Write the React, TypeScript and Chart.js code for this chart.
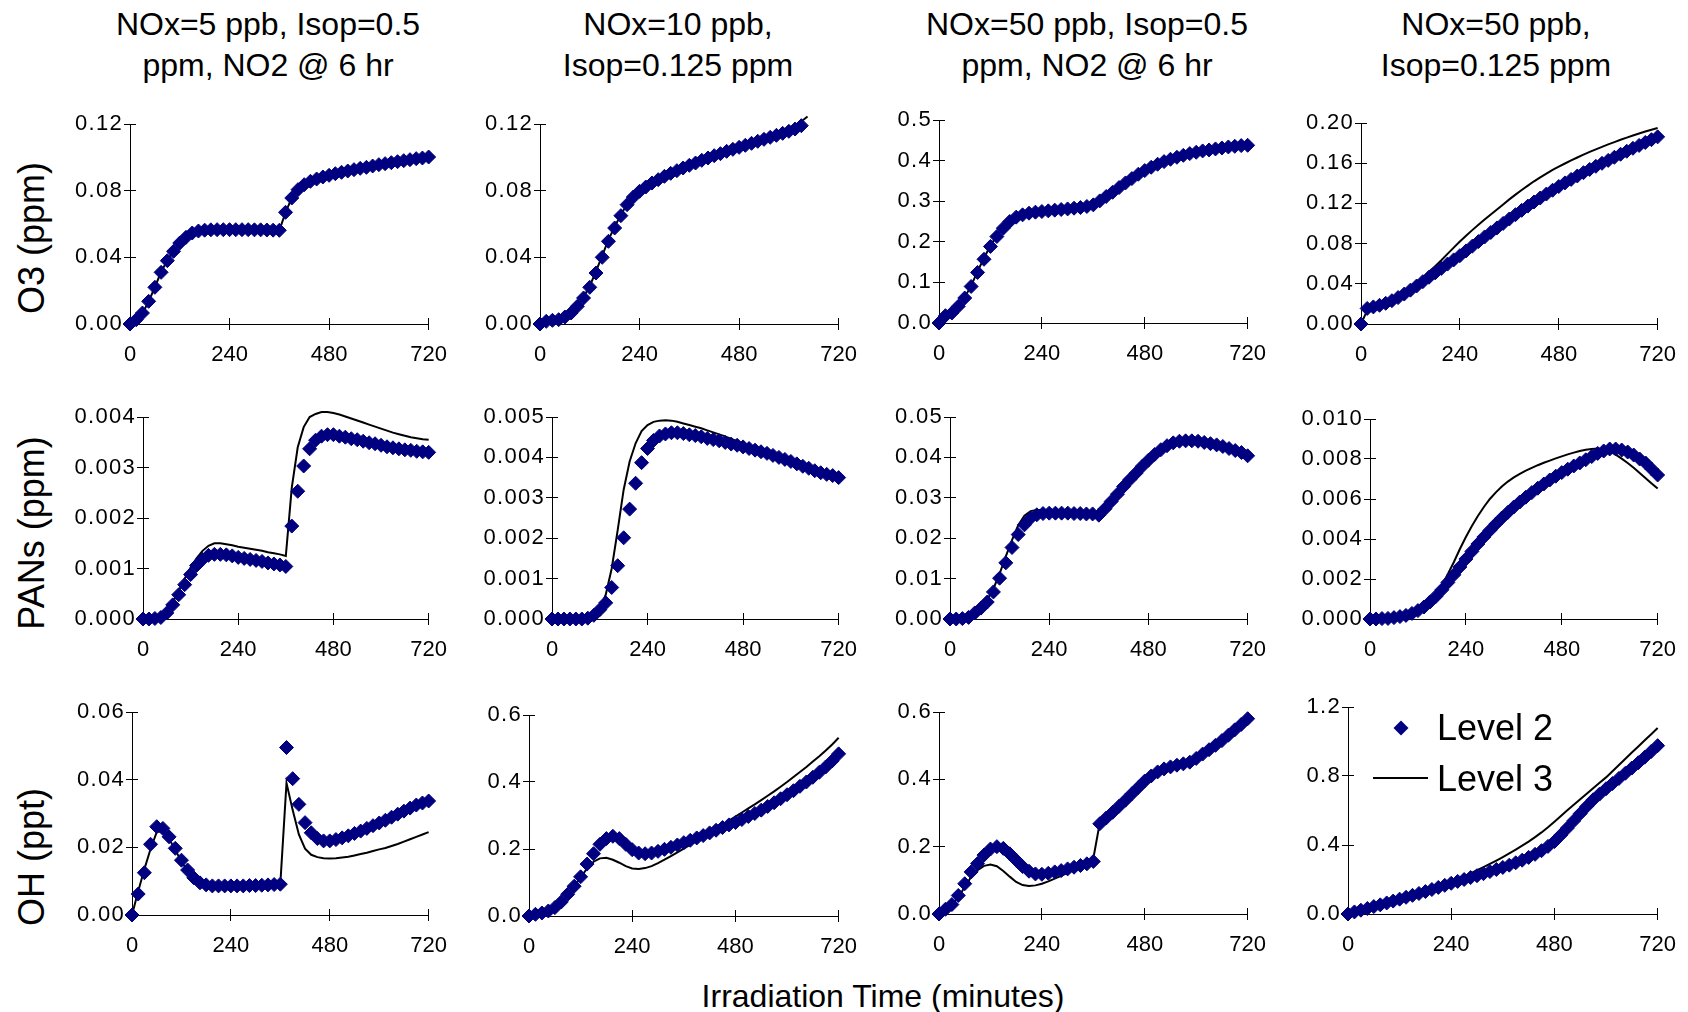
import React, { useEffect, useRef } from "react";
import { Chart, registerables } from "chart.js";

Chart.register(...registerables);

// ---------- data ----------
const T = [0, 15, 30, 45, 60, 75, 90, 105, 120, 135, 150, 165, 180, 195, 210, 225, 240, 255, 270, 285, 300, 315, 330, 345, 360, 375, 390, 405, 420, 435, 450, 465, 480, 495, 510, 525, 540, 555, 570, 585, 600, 615, 630, 645, 660, 675, 690, 705, 720];
const X_TICKS = [0, 240, 480, 720];

const COL_TITLES = [
  ["NOx=5 ppb, Isop=0.5", "ppm, NO2 @ 6 hr"],
  ["NOx=10 ppb,", "Isop=0.125 ppm"],
  ["NOx=50 ppb, Isop=0.5", "ppm, NO2 @ 6 hr"],
  ["NOx=50 ppb,", "Isop=0.125 ppm"],
];
const ROW_TITLES = ["O3 (ppm)", "PANs (ppm)", "OH (ppt)"];
const X_TITLE = "Irradiation Time (minutes)";
const SERIES = ["Level 2", "Level 3"];

// O3
const O3_A_L2 = [0, 0.0026, 0.0066, 0.0136, 0.022, 0.031, 0.038, 0.0436, 0.0486, 0.052, 0.0546, 0.0558, 0.0563, 0.0565, 0.0566, 0.0566, 0.0566, 0.0566, 0.0566, 0.0566, 0.0565, 0.0565, 0.0564, 0.0563, 0.0562, 0.067, 0.0756, 0.0806, 0.0836, 0.0856, 0.087, 0.0882, 0.0892, 0.0902, 0.091, 0.0918, 0.0926, 0.0934, 0.094, 0.0948, 0.0956, 0.0962, 0.0968, 0.0974, 0.098, 0.0986, 0.0992, 0.0996, 0.1002];
const O3_A_L3 = [0, 0.0024, 0.0064, 0.0134, 0.0222, 0.0312, 0.0382, 0.0438, 0.0487, 0.0521, 0.0546, 0.0558, 0.0563, 0.0565, 0.0566, 0.0566, 0.0566, 0.0566, 0.0566, 0.0566, 0.0565, 0.0565, 0.0564, 0.0563, 0.0562, 0.0668, 0.0758, 0.0808, 0.0838, 0.0857, 0.0871, 0.0883, 0.0893, 0.0902, 0.091, 0.0918, 0.0926, 0.0934, 0.094, 0.0948, 0.0956, 0.0962, 0.0968, 0.0974, 0.098, 0.0986, 0.0992, 0.0996, 0.1002];
const O3_B_L2 = [0, 0.0016, 0.0022, 0.0026, 0.0042, 0.0066, 0.0106, 0.0156, 0.022, 0.0306, 0.04, 0.0496, 0.0576, 0.065, 0.0716, 0.0762, 0.0796, 0.0822, 0.0846, 0.0866, 0.0886, 0.0904, 0.092, 0.0936, 0.0952, 0.0966, 0.0982, 0.0996, 0.101, 0.1022, 0.1036, 0.1048, 0.106, 0.1072, 0.1084, 0.1096, 0.1108, 0.112, 0.1132, 0.1144, 0.1156, 0.117, 0.119, null, null, null, null, null, null];
const O3_B_L3 = [0, 0.0014, 0.002, 0.0026, 0.0042, 0.0068, 0.011, 0.0162, 0.0228, 0.0316, 0.041, 0.0505, 0.0584, 0.0656, 0.072, 0.0765, 0.0799, 0.0825, 0.0849, 0.0869, 0.0889, 0.0907, 0.0923, 0.0939, 0.0955, 0.0969, 0.0985, 0.0999, 0.1013, 0.1026, 0.104, 0.1052, 0.1064, 0.1077, 0.109, 0.1103, 0.1116, 0.1129, 0.1143, 0.1158, 0.1174, 0.1192, 0.1215, 0.1245, null, null, null, null, null];
const O3_C_L2 = [0, 0.018, 0.0246, 0.041, 0.0615, 0.09, 0.1246, 0.157, 0.1885, 0.213, 0.2336, 0.25, 0.2607, 0.2664, 0.2705, 0.273, 0.2746, 0.2762, 0.278, 0.2795, 0.281, 0.2828, 0.2844, 0.287, 0.291, 0.3008, 0.3115, 0.322, 0.3336, 0.345, 0.3557, 0.3664, 0.3754, 0.3836, 0.391, 0.3975, 0.4033, 0.4082, 0.413, 0.4172, 0.4205, 0.4238, 0.4262, 0.4287, 0.4311, 0.4336, 0.4352, 0.4369, 0.4377];
const O3_C_L3 = [0, 0.016, 0.026, 0.042, 0.063, 0.092, 0.127, 0.16, 0.191, 0.215, 0.235, 0.251, 0.261, 0.2665, 0.2705, 0.273, 0.2746, 0.2762, 0.278, 0.2795, 0.281, 0.2828, 0.2844, 0.287, 0.291, 0.3008, 0.3115, 0.322, 0.3336, 0.345, 0.3557, 0.3664, 0.3754, 0.3836, 0.391, 0.3975, 0.4033, 0.4082, 0.413, 0.4172, 0.4205, 0.4238, 0.4262, 0.4287, 0.4311, 0.4336, 0.4352, 0.4369, 0.4377];
const O3_D_L2 = [0, 0.0155, 0.017, 0.0186, 0.0206, 0.0232, 0.0263, 0.0298, 0.0337, 0.0378, 0.0421, 0.0465, 0.0509, 0.0553, 0.0596, 0.0638, 0.068, 0.0727, 0.0774, 0.082, 0.0866, 0.0911, 0.0956, 0.1001, 0.1045, 0.1088, 0.1131, 0.1173, 0.1214, 0.1254, 0.1293, 0.1331, 0.1368, 0.1404, 0.1439, 0.1473, 0.1506, 0.1538, 0.1569, 0.1599, 0.1628, 0.1659, 0.1689, 0.1719, 0.1748, 0.1777, 0.1806, 0.1834, 0.1862];
const O3_D_L3 = [0, 0.0135, 0.016, 0.0183, 0.0208, 0.0237, 0.027, 0.0308, 0.035, 0.0397, 0.0448, 0.052, 0.0575, 0.0635, 0.0698, 0.076, 0.082, 0.0878, 0.0934, 0.0988, 0.104, 0.109, 0.114, 0.119, 0.124, 0.1287, 0.1333, 0.1377, 0.142, 0.1459, 0.1497, 0.1534, 0.1565, 0.1597, 0.1628, 0.1657, 0.1685, 0.1712, 0.1738, 0.1763, 0.1787, 0.181, 0.1833, 0.1855, 0.1876, 0.1896, 0.1915, 0.1933, 0.195];

// PANs
const PAN_A_L2 = [0, 0, 0.00001, 0.00003, 0.00012, 0.00028, 0.00048, 0.00068, 0.00088, 0.00106, 0.00118, 0.00126, 0.00128, 0.00128, 0.00127, 0.00125, 0.00122, 0.0012, 0.00118, 0.00116, 0.00114, 0.00111, 0.00109, 0.00107, 0.00104, 0.00184, 0.00253, 0.00303, 0.00337, 0.00354, 0.00362, 0.00365, 0.00365, 0.00362, 0.0036, 0.00357, 0.00355, 0.00352, 0.00349, 0.00347, 0.00344, 0.00341, 0.00339, 0.00337, 0.00335, 0.00334, 0.00332, 0.00331, 0.0033];
const PAN_A_L3 = [0, 0, 0, 0.00003, 0.00014, 0.00032, 0.00056, 0.0008, 0.00102, 0.0012, 0.00135, 0.00145, 0.0015, 0.0015, 0.00148, 0.00146, 0.00143, 0.00141, 0.00139, 0.00137, 0.00135, 0.00132, 0.0013, 0.00128, 0.00125, 0.0026, 0.0034, 0.0038, 0.004, 0.00406, 0.0041, 0.0041, 0.00408, 0.00405, 0.00401, 0.00397, 0.00393, 0.00389, 0.00385, 0.00381, 0.00377, 0.00373, 0.00369, 0.00366, 0.00363, 0.0036, 0.00358, 0.00356, 0.00355];
const PAN_B_L2 = [0, 0, 0, 0, 0, 0, 0.00002, 0.00009, 0.00023, 0.0004, 0.00078, 0.00132, 0.00201, 0.00272, 0.00336, 0.00387, 0.00422, 0.00442, 0.00453, 0.00458, 0.00461, 0.00461, 0.00459, 0.00456, 0.00454, 0.00451, 0.00447, 0.00444, 0.00441, 0.00437, 0.00433, 0.0043, 0.00426, 0.00422, 0.00418, 0.00414, 0.0041, 0.00405, 0.004, 0.00395, 0.0039, 0.00384, 0.00378, 0.00373, 0.00367, 0.00362, 0.00358, 0.00355, 0.0035];
const PAN_B_L3 = [0, 0, 0, 0, 0, 0, 0, 0.00002, 0.00025, 0.0006, 0.00125, 0.0022, 0.0032, 0.0039, 0.00435, 0.00465, 0.0048, 0.00488, 0.00491, 0.00492, 0.00491, 0.00488, 0.00484, 0.0048, 0.00476, 0.00472, 0.00467, 0.00462, 0.00457, 0.00452, 0.00446, 0.0044, 0.00433, 0.00427, 0.00421, 0.00415, 0.00409, 0.00404, 0.00399, 0.00394, 0.00389, 0.00384, 0.00378, 0.00373, 0.00367, 0.00361, 0.00356, 0.00352, 0.00348];
const PAN_C_L2 = [0, 0, 0.0001, 0.0004, 0.0015, 0.0027, 0.0042, 0.0067, 0.0101, 0.0139, 0.0177, 0.0209, 0.0233, 0.025, 0.0258, 0.0261, 0.0262, 0.0262, 0.0262, 0.0262, 0.0261, 0.0261, 0.026, 0.026, 0.0257, 0.0273, 0.0291, 0.0309, 0.0328, 0.0345, 0.0361, 0.0378, 0.0393, 0.0407, 0.0419, 0.0429, 0.0436, 0.044, 0.0441, 0.0441, 0.044, 0.0437, 0.0434, 0.0431, 0.0427, 0.0422, 0.0417, 0.0412, 0.0404];
const PAN_C_L3 = [0, 0, 0.0001, 0.0005, 0.0016, 0.003, 0.0048, 0.0075, 0.0112, 0.0155, 0.0195, 0.0232, 0.0256, 0.0267, 0.027, 0.027, 0.0269, 0.0268, 0.0267, 0.0266, 0.0265, 0.0264, 0.0263, 0.0262, 0.026, 0.0274, 0.0292, 0.031, 0.0329, 0.0346, 0.0362, 0.0379, 0.0394, 0.0408, 0.042, 0.043, 0.0437, 0.0441, 0.0442, 0.0442, 0.0441, 0.0438, 0.0435, 0.0432, 0.0428, 0.0423, 0.0418, 0.0412, 0.0405];
const PAN_D_L2 = [0, 0, 0.00002, 0.00003, 0.00007, 0.00012, 0.00018, 0.00028, 0.00042, 0.0006, 0.00085, 0.00113, 0.00146, 0.00183, 0.00221, 0.0026, 0.003, 0.00338, 0.00375, 0.0041, 0.00443, 0.00475, 0.00505, 0.00533, 0.0056, 0.00585, 0.00609, 0.00632, 0.00654, 0.00675, 0.00695, 0.00714, 0.00732, 0.00749, 0.00765, 0.0078, 0.00796, 0.00812, 0.00828, 0.0084, 0.0085, 0.0085, 0.00845, 0.00835, 0.0082, 0.008, 0.0078, 0.0075, 0.0072];
const PAN_D_L3 = [0, 0, 0.00002, 0.00003, 0.00007, 0.00012, 0.00018, 0.00028, 0.00042, 0.0006, 0.00088, 0.00125, 0.0017, 0.00225, 0.00285, 0.0035, 0.0041, 0.00465, 0.00515, 0.0056, 0.006, 0.00633, 0.00662, 0.00687, 0.00708, 0.00726, 0.00742, 0.00756, 0.00769, 0.00781, 0.00792, 0.00803, 0.00813, 0.00823, 0.00832, 0.0084, 0.00846, 0.0085, 0.00852, 0.00848, 0.00838, 0.00822, 0.00802, 0.0078, 0.00756, 0.0073, 0.00704, 0.00678, 0.00652];

// OH
const OH_A_L2 = [0, 0.0062, 0.0125, 0.0209, 0.0261, 0.0256, 0.0231, 0.0197, 0.0162, 0.0133, 0.011, 0.0095, 0.0089, 0.0086, 0.0086, 0.0086, 0.0086, 0.0086, 0.0086, 0.0087, 0.0087, 0.0088, 0.0089, 0.009, 0.0091, 0.0495, 0.0403, 0.0327, 0.0273, 0.0243, 0.0226, 0.0219, 0.0219, 0.0223, 0.0228, 0.0234, 0.0241, 0.0248, 0.0256, 0.0264, 0.0272, 0.028, 0.0289, 0.0298, 0.0307, 0.0316, 0.0325, 0.0331, 0.0337];
const OH_A_L3 = [0, 0.007, 0.0135, 0.0195, 0.0245, 0.0248, 0.0225, 0.0192, 0.0158, 0.013, 0.0108, 0.0094, 0.0088, 0.0086, 0.0086, 0.0086, 0.0086, 0.0086, 0.0086, 0.0087, 0.0087, 0.0088, 0.0089, 0.009, 0.0092, 0.039, 0.031, 0.0238, 0.0196, 0.0178, 0.0171, 0.0168, 0.0167, 0.0168, 0.017, 0.0172, 0.0176, 0.018, 0.0184, 0.0189, 0.0194, 0.0198, 0.0204, 0.021, 0.0217, 0.0224, 0.0231, 0.0238, 0.0245];
const OH_B_L2 = [0, 0.005, 0.009, 0.015, 0.025, 0.042, 0.065, 0.089, 0.117, 0.155, 0.186, 0.214, 0.231, 0.238, 0.231, 0.214, 0.198, 0.188, 0.186, 0.188, 0.193, 0.199, 0.205, 0.212, 0.219, 0.226, 0.233, 0.24, 0.248, 0.256, 0.264, 0.272, 0.279, 0.288, 0.297, 0.306, 0.316, 0.327, 0.338, 0.35, 0.362, 0.374, 0.387, 0.4, 0.414, 0.429, 0.445, 0.463, 0.484];
const OH_B_L3 = [0, 0.004, 0.008, 0.014, 0.024, 0.04, 0.062, 0.088, 0.115, 0.142, 0.162, 0.172, 0.174, 0.168, 0.159, 0.149, 0.142, 0.14, 0.143, 0.149, 0.158, 0.168, 0.179, 0.19, 0.201, 0.213, 0.225, 0.237, 0.249, 0.261, 0.273, 0.285, 0.297, 0.309, 0.321, 0.333, 0.346, 0.359, 0.372, 0.386, 0.4, 0.415, 0.43, 0.445, 0.461, 0.477, 0.494, 0.512, 0.532];
const OH_C_L2 = [0, 0.014, 0.028, 0.055, 0.09, 0.125, 0.15, 0.175, 0.193, 0.2, 0.195, 0.179, 0.16, 0.141, 0.127, 0.119, 0.118, 0.121, 0.125, 0.129, 0.134, 0.139, 0.144, 0.149, 0.156, 0.268, 0.285, 0.302, 0.32, 0.338, 0.357, 0.376, 0.395, 0.41, 0.422, 0.431, 0.437, 0.442, 0.446, 0.451, 0.462, 0.475, 0.488, 0.501, 0.515, 0.531, 0.547, 0.563, 0.58];
const OH_C_L3 = [0, 0.014, 0.028, 0.05, 0.08, 0.11, 0.13, 0.143, 0.147, 0.142, 0.128, 0.111, 0.095, 0.086, 0.083, 0.085, 0.09, 0.097, 0.105, 0.113, 0.122, 0.131, 0.14, 0.15, 0.165, 0.27, 0.285, 0.302, 0.32, 0.338, 0.357, 0.376, 0.395, 0.41, 0.422, 0.431, 0.437, 0.442, 0.446, 0.451, 0.462, 0.475, 0.488, 0.501, 0.515, 0.531, 0.547, 0.563, 0.58];
const OH_D_L2 = [0, 0.012, 0.022, 0.032, 0.043, 0.053, 0.064, 0.075, 0.086, 0.097, 0.108, 0.119, 0.13, 0.142, 0.154, 0.166, 0.178, 0.189, 0.2, 0.211, 0.222, 0.234, 0.246, 0.258, 0.27, 0.283, 0.297, 0.312, 0.328, 0.346, 0.367, 0.392, 0.42, 0.458, 0.498, 0.54, 0.582, 0.623, 0.662, 0.695, 0.726, 0.756, 0.786, 0.816, 0.846, 0.877, 0.909, 0.942, 0.976];
const OH_D_L3 = [0, 0.012, 0.022, 0.032, 0.043, 0.053, 0.064, 0.075, 0.086, 0.097, 0.108, 0.12, 0.132, 0.145, 0.158, 0.171, 0.188, 0.203, 0.219, 0.236, 0.254, 0.272, 0.291, 0.31, 0.33, 0.351, 0.373, 0.396, 0.42, 0.446, 0.473, 0.503, 0.535, 0.568, 0.601, 0.633, 0.665, 0.697, 0.729, 0.761, 0.792, 0.828, 0.864, 0.9, 0.936, 0.971, 1.007, 1.042, 1.078];

// y tick labels
const Y_O3_AB = [0, 0.04, 0.08, 0.12];
const Y_O3_C = [0, 0.1, 0.2, 0.3, 0.4, 0.5];
const Y_O3_D = [0, 0.04, 0.08, 0.12, 0.16, 0.2];
const Y_PAN_A = [0, 0.001, 0.002, 0.003, 0.004];
const Y_PAN_B = [0, 0.001, 0.002, 0.003, 0.004, 0.005];
const Y_PAN_C = [0, 0.01, 0.02, 0.03, 0.04, 0.05];
const Y_PAN_D = [0, 0.002, 0.004, 0.006, 0.008, 0.01];
const Y_OH_A = [0, 0.02, 0.04, 0.06];
const Y_OH_BC = [0, 0.2, 0.4, 0.6];
const Y_OH_D = [0, 0.4, 0.8, 1.2];

type PanelDef = { l2: (number | null)[]; l3: (number | null)[]; yTicks: number[]; dec: number; legend?: boolean };

const PANELS: PanelDef[] = [
  { l2: O3_A_L2, l3: O3_A_L3, yTicks: Y_O3_AB, dec: 2 },
  { l2: O3_B_L2, l3: O3_B_L3, yTicks: Y_O3_AB, dec: 2 },
  { l2: O3_C_L2, l3: O3_C_L3, yTicks: Y_O3_C, dec: 1 },
  { l2: O3_D_L2, l3: O3_D_L3, yTicks: Y_O3_D, dec: 2 },
  { l2: PAN_A_L2, l3: PAN_A_L3, yTicks: Y_PAN_A, dec: 3 },
  { l2: PAN_B_L2, l3: PAN_B_L3, yTicks: Y_PAN_B, dec: 3 },
  { l2: PAN_C_L2, l3: PAN_C_L3, yTicks: Y_PAN_C, dec: 2 },
  { l2: PAN_D_L2, l3: PAN_D_L3, yTicks: Y_PAN_D, dec: 3 },
  { l2: OH_A_L2, l3: OH_A_L3, yTicks: Y_OH_A, dec: 2 },
  { l2: OH_B_L2, l3: OH_B_L3, yTicks: Y_OH_BC, dec: 1 },
  { l2: OH_C_L2, l3: OH_C_L3, yTicks: Y_OH_BC, dec: 1 },
  { l2: OH_D_L2, l3: OH_D_L3, yTicks: Y_OH_D, dec: 1, legend: true },
];

// ---------- layout (page pixels) ----------
const COL_LEFT = [40, 450, 862, 1272];
const PLOT_BOXES = [
  { l: 130, r: 439, t: 124, b: 324 },
  { l: 540, r: 849, t: 124, b: 324 },
  { l: 939, r: 1258, t: 120, b: 323 },
  { l: 1361, r: 1668, t: 123, b: 324 },
  { l: 143, r: 439, t: 417, b: 619 },
  { l: 552, r: 849, t: 417, b: 619 },
  { l: 950, r: 1258, t: 417, b: 619 },
  { l: 1370, r: 1668, t: 419, b: 619 },
  { l: 132, r: 439, t: 712, b: 915 },
  { l: 529, r: 849, t: 715, b: 916 },
  { l: 939, r: 1258, t: 712, b: 914 },
  { l: 1348, r: 1668, t: 707, b: 914 },
];
const PAD_TOP = 20;
const PAD_RIGHT = 20;
const X_AXIS_H = 45;
const TICK_FONT_SIZE = 22;
const Y_LABEL_SPACING = "1.3px";
const COL_TITLE_X = [268, 678, 1087, 1496];
const COL_TITLE_Y = [24, 65];
const ROW_TITLE_X = 32;
const ROW_TITLE_Y = [238, 533, 857];
const X_TITLE_POS = { x: 883, y: 996 };
const LEGEND_POS = { diamondX: 1401, diamondY: 728, lineX1: 1373, lineX2: 1428, lineY: 778, textX: 1437, base1: 740, base2: 791 };

const FONT = "'Liberation Sans', Arial, Helvetica, sans-serif";
const NAVY = "#000080";

const crossTicks = {
  id: "crossTicks",
  beforeDatasetsDraw(chart: any) {
    const { ctx, chartArea: a, scales } = chart;
    const x = scales.x;
    const y = scales.y;
    const al = (p: number) => Math.round(p - 0.5) + 0.5;
    ctx.save();
    ctx.strokeStyle = "#000";
    ctx.lineWidth = 1;
    ctx.beginPath();
    x.ticks.forEach((t: any) => {
      const px = al(x.getPixelForValue(t.value));
      ctx.moveTo(px, a.bottom);
      ctx.lineTo(px, a.bottom - 6);
    });
    y.ticks.forEach((t: any) => {
      const py = al(y.getPixelForValue(t.value));
      ctx.moveTo(a.left, py);
      ctx.lineTo(a.left + 6, py);
    });
    ctx.stroke();
    ctx.restore();
  },
};

// y-axis labels (drawn after the datasets, ticks.z = 1) get a little extra letter spacing
const ySpacing = {
  id: "ySpacing",
  afterDatasetsDraw(chart: any) {
    (chart.ctx as any).letterSpacing = Y_LABEL_SPACING;
  },
  afterDraw(chart: any) {
    (chart.ctx as any).letterSpacing = "0px";
  },
};

function makeLegendPlugin(offX: number, offY: number) {
  return {
    id: "inlineLegend",
    afterDatasetsDraw(chart: any) {
      const ctx = chart.ctx;
      const [d2, d3] = chart.data.datasets;
      const L = LEGEND_POS;
      ctx.save();
      const cx = L.diamondX - offX;
      const cy = L.diamondY - offY;
      const r = 7.5;
      ctx.fillStyle = d2.pointBackgroundColor;
      ctx.beginPath();
      ctx.moveTo(cx - r, cy);
      ctx.lineTo(cx, cy - r);
      ctx.lineTo(cx + r, cy);
      ctx.lineTo(cx, cy + r);
      ctx.closePath();
      ctx.fill();
      ctx.strokeStyle = d3.borderColor;
      ctx.lineWidth = d3.borderWidth;
      ctx.beginPath();
      ctx.moveTo(L.lineX1 - offX, L.lineY - offY);
      ctx.lineTo(L.lineX2 - offX, L.lineY - offY);
      ctx.stroke();
      ctx.fillStyle = "#000";
      ctx.font = `36px ${FONT}`;
      ctx.textBaseline = "alphabetic";
      ctx.textAlign = "left";
      ctx.fillText(d2.label, L.textX - offX, L.base1 - offY);
      ctx.fillText(d3.label, L.textX - offX, L.base2 - offY);
      ctx.restore();
    },
  };
}

function Panel({ def, idx }: { def: PanelDef; idx: number }) {
  const ref = useRef<HTMLCanvasElement>(null);
  const box = PLOT_BOXES[idx];
  const colLeft = COL_LEFT[idx % 4];
  const left = colLeft;
  const top = box.t - PAD_TOP;
  const width = box.r + PAD_RIGHT - colLeft;
  const height = box.b - box.t + PAD_TOP + X_AXIS_H;
  const yAxisW = box.l - colLeft;

  useEffect(() => {
    const pts = (arr: (number | null)[]) =>
      T.map((t, i) => ({ x: t, y: arr[i] })).filter((p) => p.y !== null && p.y !== undefined);
    const yMin = def.yTicks[0];
    const yMax = def.yTicks[def.yTicks.length - 1];
    const plugins: any[] = [crossTicks];
    if (def.legend) plugins.push(makeLegendPlugin(left, top));
    plugins.push(ySpacing);
    const chart = new Chart(ref.current as HTMLCanvasElement, {
      type: "line",
      data: {
        datasets: [
          {
            label: SERIES[0],
            data: pts(def.l2),
            showLine: false,
            pointStyle: "rectRot",
            pointRadius: 7,
            pointBorderWidth: 1,
            pointBackgroundColor: NAVY,
            pointBorderColor: NAVY,
            borderColor: NAVY,
            backgroundColor: NAVY,
            clip: false,
          } as any,
          {
            label: SERIES[1],
            data: pts(def.l3),
            borderColor: "#000",
            backgroundColor: "#000",
            borderWidth: 2,
            pointRadius: 0,
            tension: 0,
            fill: false,
            clip: false,
          } as any,
        ],
      },
      options: {
        animation: false,
        responsive: false,
        devicePixelRatio: 1,
        events: [],
        layout: { padding: { left: 0, right: PAD_RIGHT, top: PAD_TOP, bottom: 0 } },
        plugins: { legend: { display: false }, tooltip: { enabled: false } },
        scales: {
          x: {
            type: "linear",
            min: 0,
            max: 720,
            afterBuildTicks: (s: any) => {
              s.ticks = X_TICKS.map((v) => ({ value: v }));
            },
            afterFit: (s: any) => {
              s.height = X_AXIS_H;
            },
            ticks: {
              autoSkip: false,
              maxRotation: 0,
              padding: 12,
              color: "#000",
              font: { family: FONT, size: TICK_FONT_SIZE },
              callback: (v: any) => String(v),
            },
            grid: { display: true, drawOnChartArea: false, drawTicks: true, tickLength: 6, color: "#000", lineWidth: 1 },
            border: { display: true, color: "#000", width: 1 },
          },
          y: {
            type: "linear",
            min: yMin,
            max: yMax,
            afterBuildTicks: (s: any) => {
              s.ticks = def.yTicks.map((v) => ({ value: v }));
            },
            afterFit: (s: any) => {
              s.width = yAxisW;
            },
            ticks: {
              autoSkip: false,
              padding: 1,
              z: 1,
              color: "#000",
              font: { family: FONT, size: TICK_FONT_SIZE },
              callback: (v: any) => Number(v).toFixed(def.dec),
            },
            grid: { display: true, drawOnChartArea: false, drawTicks: true, tickLength: 6, color: "#000", lineWidth: 1 },
            border: { display: true, color: "#000", width: 1 },
          },
        },
      } as any,
      plugins,
    });
    return () => chart.destroy();
  }, []);

  return (
    <canvas
      ref={ref}
      width={width}
      height={height}
      style={{ position: "absolute", left, top, width, height }}
    />
  );
}

const textBase: React.CSSProperties = {
  position: "absolute",
  fontFamily: FONT,
  color: "#000",
  whiteSpace: "nowrap",
  lineHeight: 1,
};

export default function App() {
  return (
    <div
      style={{
        position: "absolute",
        left: 0,
        top: 0,
        width: 1688,
        height: 1012,
        overflow: "hidden",
        background: "#fff",
      }}
    >
      {COL_TITLES.map((lines, c) =>
        lines.map((txt, k) => (
          <div
            key={`ct-${c}-${k}`}
            style={{
              ...textBase,
              fontSize: 32,
              left: COL_TITLE_X[c],
              top: COL_TITLE_Y[k],
              transform: "translate(-50%, -50%)",
            }}
          >
            {txt}
          </div>
        ))
      )}
      {ROW_TITLES.map((txt, r) => (
        <div
          key={`rt-${r}`}
          style={{
            ...textBase,
            fontSize: 36,
            left: ROW_TITLE_X,
            top: ROW_TITLE_Y[r],
            transform: "translate(-50%, -50%) rotate(-90deg)",
          }}
        >
          {txt}
        </div>
      ))}
      <div
        style={{
          ...textBase,
          fontSize: 32,
          left: X_TITLE_POS.x,
          top: X_TITLE_POS.y,
          transform: "translate(-50%, -50%)",
        }}
      >
        {X_TITLE}
      </div>
      {PANELS.map((def, i) => (
        <Panel key={i} def={def} idx={i} />
      ))}
    </div>
  );
}
